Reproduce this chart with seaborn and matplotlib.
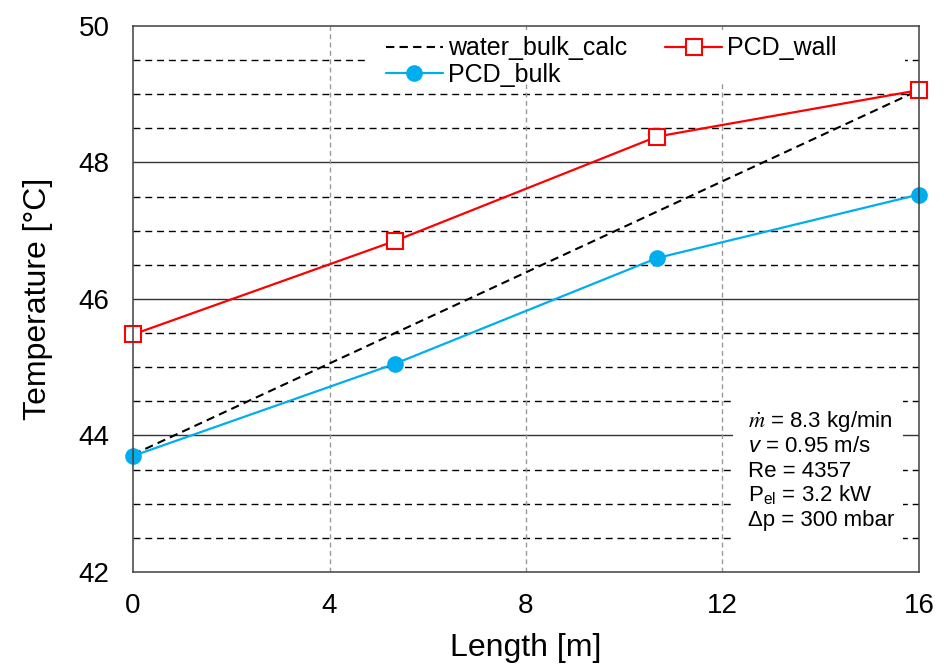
import numpy as np
import pandas as pd
import seaborn as sns
import matplotlib
matplotlib.use("Agg")
import matplotlib.pyplot as plt
from matplotlib.ticker import MultipleLocator
from matplotlib.patches import Rectangle

# Measured / calculated temperatures along the test section
length_m = [0.0, 5.33, 10.67, 16.0]
pcd_wall = [45.48, 46.85, 48.38, 49.06]
pcd_bulk = [43.70, 45.05, 46.60, 47.53]
water_len = [0.0, 16.0]
water_bulk_calc = [43.72, 49.06]

info_lines = [r"$\dot{m}$ = 8.3 kg/min", r"$v$ = 0.95 m/s", "Re = 4357",
              r"P$_{\mathrm{el}}$ = 3.2 kW", "Δp = 300 mbar"]

sns.set_theme(style="white")
plt.rcParams["font.family"] = ["Liberation Sans", "DejaVu Sans"]
plt.rcParams["text.color"] = "black"
plt.rcParams["axes.labelcolor"] = "black"
plt.rcParams["mathtext.fontset"] = "custom"
plt.rcParams["mathtext.rm"] = "Liberation Sans"
plt.rcParams["mathtext.it"] = "Liberation Sans:italic"

fig = plt.figure(figsize=(9.44, 6.64), dpi=100)
ax = fig.add_axes([0.1409, 0.1386, 0.8326, 0.8223])

df_wall = pd.DataFrame({"x": length_m, "y": pcd_wall})
df_bulk = pd.DataFrame({"x": length_m, "y": pcd_bulk})
df_water = pd.DataFrame({"x": water_len, "y": water_bulk_calc})

sns.lineplot(data=df_water, x="x", y="y", ax=ax, color="black", lw=1.5,
             linestyle=(0, (4, 2.5)), label="water_bulk_calc", zorder=3)
sns.lineplot(data=df_bulk, x="x", y="y", ax=ax, color="#00AEEF", lw=1.6,
             marker="o", markersize=12, markeredgewidth=0, label="PCD_bulk",
             zorder=4, clip_on=False)
sns.lineplot(data=df_wall, x="x", y="y", ax=ax, color="#FF0000", lw=1.6,
             marker="s", markersize=11, markerfacecolor="white",
             markeredgecolor="#FF0000", markeredgewidth=1.5, label="PCD_wall",
             zorder=5, clip_on=False)

ax.set_xlim(0, 16)
ax.set_ylim(42, 50)
ax.xaxis.set_major_locator(MultipleLocator(4))
ax.yaxis.set_major_locator(MultipleLocator(2))

# grid: solid major y lines, dashed minor y lines, dashed grey vertical lines
ax.grid(False)
for yv in [44, 46, 48]:
    ax.axhline(yv, color="#333333", lw=1.0, zorder=1)
for yv in np.arange(42.5, 50, 0.5):
    if yv % 2 != 0:
        ax.axhline(yv, color="black", lw=1.0, linestyle=(0, (5, 3.5)), zorder=1)
for xv in [4, 8, 12]:
    ax.axvline(xv, color="#999999", lw=1.0, linestyle=(0, (3.5, 2.5)), zorder=1)

for s in ax.spines.values():
    s.set_color("#404040")
    s.set_linewidth(1.1)
    s.set_zorder(7)

ax.tick_params(axis="both", which="major", labelsize=20, length=0,
               labelcolor="black")
ax.tick_params(axis="x", pad=15)
ax.tick_params(axis="y", pad=17)
ax.set_xlabel("Length [m]", fontsize=23, labelpad=10, color="black")
ax.set_ylabel("Temperature [°C]", fontsize=23, labelpad=18, color="black")

# white backdrop behind the legend
ax.add_patch(Rectangle((0.295, 0.896), 0.687, 0.097, transform=ax.transAxes,
                       facecolor="white", edgecolor="none", zorder=2))
leg = ax.legend(loc="upper left", bbox_to_anchor=(0.315, 0.99), ncol=2,
                fontsize=18, frameon=False, handlelength=2.3,
                handletextpad=0.2, columnspacing=1.5, labelspacing=0.1,
                borderpad=0.2, borderaxespad=0.0, labelcolor="black")
leg.set_zorder(6)

# white backdrop and operating-condition notes
ax.add_patch(Rectangle((0.763, 0.049), 0.217, 0.271, transform=ax.transAxes,
                       facecolor="white", edgecolor="none", zorder=2))
for i, line in enumerate(info_lines):
    kw = {}
    if i == 0:
        kw["math_fontfamily"] = "stix"
    ax.text(0.782, 0.2747 - i * 0.0449, line, transform=ax.transAxes,
            fontsize=16, va="center", ha="left", zorder=6, color="black", **kw)

fig.savefig("out.png", dpi=100)
